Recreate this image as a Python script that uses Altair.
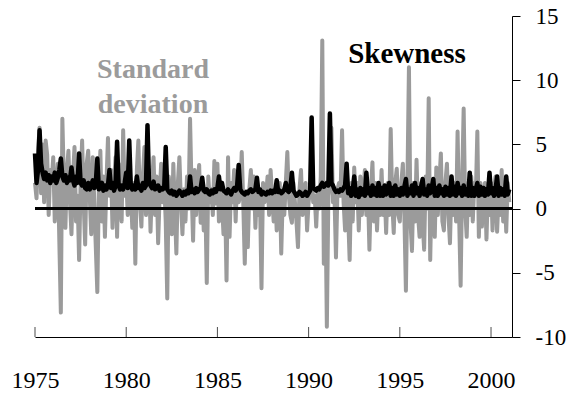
import altair as alt
import pandas as pd

# Monthly observations, January 1975 to January 2001
standard_deviation = [
    2.0, 0.8, 4.5, 6.3, 1.2, 5.0, 0.5, 5.3, 4.2, -0.5, 3.0, 2.0,      # 1975
    4.0, -1.0, 1.5, 3.5, -2.5, -8.1, 7.0, 2.0, -1.5, 3.0, 4.5, 0.5,   # 1976
    -2.0, 2.5, 4.8, -1.0, 1.0, -4.0, 2.0, 5.3, 0.5, -2.8, 3.5, 4.5,   # 1977
    1.0, -2.0, 4.0, 0.5, -3.0, -6.5, 1.5, 4.5, -1.0, 2.5, -2.2, 2.0,  # 1978
    5.5, 1.0, 3.0, -1.5, 2.0, 4.0, -2.2, 3.5, 0.5, -1.0, 6.1, 1.0,    # 1979
    2.5, -0.5, 4.0, 1.5, -1.5, 2.0, -4.3, 3.0, 5.3, 0.5, -1.4, 2.5,   # 1980
    4.8, -0.5, 1.5, 3.0, -1.8, 2.0, 4.0, -0.5, 2.5, -2.7, 1.0, 3.5,   # 1981
    0.5, 2.0, -1.0, -7.0, 2.5, 1.0, -2.0, 3.5, 0.0, -3.5, 2.0, 4.0,   # 1982
    0.5, -2.0, 1.5, -1.0, 2.5, 0.0, 7.0, 1.5, -2.5, 3.0, -0.5, 2.0,   # 1983
    3.4, -1.1, 2.0, -1.7, 1.0, -5.8, 2.5, 0.5, 1.5, -0.5, 3.7, 0.4,   # 1984
    3.5, -1.0, 2.0, 0.5, -2.0, 1.0, -5.6, 4.0, -2.2, 2.0, 0.5, 3.0,   # 1985
    -1.0, 2.5, 0.5, 1.0, 4.4, 0.5, -4.3, 1.0, -3.0, 1.5, 3.0, 0.0,    # 1986
    2.5, -1.5, 1.5, -0.5, 1.0, -6.2, 2.0, 0.5, 1.0, 2.5, -0.5, 3.0,   # 1987
    1.0, -1.0, 1.5, -1.7, 0.5, 2.0, -3.5, 1.0, -0.5, 2.0, 4.4, 1.0,   # 1988
    -0.5, -1.1, 2.0, 0.5, -1.0, -3.0, 1.5, 3.0, -0.5, 1.0, 2.0, -1.7, # 1989
    0.5, 1.5, 3.0, 0.5, 1.0, -1.4, 1.5, 0.0, 2.5, 13.1, -4.3, 1.5,    # 1990
    -9.2, 1.0, 2.0, 6.3, 0.5, 1.0, -3.8, 1.5, 2.0, 1.0, 6.1, 0.5,     # 1991
    -1.7, 2.5, -0.5, -4.0, 2.0, -1.0, 3.2, 0.5, 2.0, -1.7, 2.5, -0.5, # 1992
    1.0, 3.0, -0.5, 1.5, -3.2, 1.5, 3.6, -1.0, 2.0, -1.7, 1.5, -0.5,  # 1993
    3.0, -0.5, 1.5, -1.9, 2.0, -0.5, 6.2, 0.5, -1.9, 2.0, 3.1, -0.5,  # 1994
    -1.0, 2.0, 3.5, -0.5, -6.4, 2.0, 11.0, -1.0, -3.3, 2.0, -1.0, 3.8,# 1995
    -0.5, -2.2, 2.0, -1.0, -3.2, 2.5, 0.0, 8.6, -4.0, 2.0, 1.0, -2.2, # 1996
    3.2, -0.5, 2.0, 4.3, -1.0, -1.7, 2.0, 3.5, -0.5, -2.7, 2.0, -0.5, # 1997
    2.0, -1.0, 6.0, -0.5, -6.0, 2.0, 7.8, 0.0, -2.2, 2.0, -0.5, 2.5,  # 1998
    -1.0, 2.0, 1.0, 6.0, -2.2, 2.0, -1.4, 1.0, 2.0, -2.4, 1.5, -0.5,  # 1999
    2.0, -1.7, 1.5, 2.5, -1.8, 1.0, -0.5, 3.0, -1.0, 1.5, -1.8, 2.0,  # 2000
    0.5,                                                              # 2001
]

skewness = [
    4.3, 2.0, 3.0, 6.1, 3.5, 2.8, 2.3, 2.8, 2.2, 2.6, 2.0, 2.5,  # 1975
    2.2, 2.8, 2.0, 2.4, 3.0, 3.9, 2.5, 2.2, 2.6, 2.0, 2.4, 2.2,  # 1976
    3.2, 2.2, 1.8, 2.5, 2.0, 4.3, 2.0, 1.8, 2.2, 1.6, 1.5, 2.0,  # 1977
    1.5, 1.8, 2.2, 1.6, 2.0, 3.9, 1.5, 1.6, 2.0, 1.4, 1.8, 1.5,  # 1978
    1.8, 3.0, 1.6, 2.0, 1.4, 1.8, 5.2, 1.8, 1.5, 1.8, 1.5, 2.0,  # 1979
    2.8, 1.6, 5.3, 1.8, 1.5, 1.8, 1.5, 2.5, 1.6, 1.8, 1.4, 2.0,  # 1980
    1.6, 1.8, 6.5, 2.0, 1.8, 1.6, 2.1, 1.5, 1.6, 1.8, 1.4, 1.6,  # 1981
    1.5, 1.6, 4.8, 1.5, 1.3, 1.2, 1.4, 1.1, 1.3, 1.0, 1.2, 1.4,  # 1982
    1.2, 1.0, 1.3, 1.1, 1.4, 1.2, 2.5, 1.3, 1.5, 1.2, 1.6, 1.3,  # 1983
    1.5, 1.6, 2.4, 1.4, 1.3, 1.5, 1.2, 1.1, 1.4, 1.2, 1.5, 1.3,  # 1984
    1.6, 2.5, 1.5, 2.0, 1.4, 1.3, 1.2, 1.5, 1.3, 1.1, 1.4, 1.6,  # 1985
    1.4, 1.8, 3.4, 1.5, 1.3, 1.2, 1.1, 1.3, 1.2, 1.4, 1.5, 1.3,  # 1986
    1.4, 1.5, 2.4, 1.3, 1.5, 1.1, 1.3, 1.2, 1.1, 1.3, 1.2, 1.4,  # 1987
    1.2, 1.4, 1.3, 2.2, 1.3, 1.4, 1.2, 1.3, 1.5, 2.0, 1.4, 1.3,  # 1988
    1.6, 2.8, 1.4, 1.2, 1.0, 1.1, 1.3, 1.2, 1.0, 1.1, 1.3, 1.0,  # 1989
    1.2, 1.4, 7.1, 1.6, 1.5, 1.4, 1.6, 1.5, 1.8, 2.0, 1.7, 1.8,  # 1990
    2.0, 1.8, 7.4, 2.0, 1.8, 1.5, 1.3, 1.4, 1.3, 1.5, 1.4, 1.6,  # 1991
    1.8, 3.5, 1.2, 1.6, 1.0, 1.4, 2.5, 1.0, 1.5, 0.9, 1.6, 1.1,  # 1992
    1.5, 1.0, 2.8, 1.2, 1.6, 1.0, 1.8, 1.1, 1.6, 1.0, 2.0, 1.0,  # 1993
    1.6, 1.0, 1.8, 1.1, 1.5, 2.0, 1.0, 1.6, 1.0, 1.8, 1.1, 1.5,  # 1994
    1.0, 1.6, 1.1, 1.7, 2.3, 1.0, 1.5, 1.2, 1.8, 1.0, 2.0, 1.2,  # 1995
    1.6, 1.0, 1.7, 2.3, 1.1, 1.5, 1.0, 1.8, 1.2, 1.6, 2.3, 1.0,  # 1996
    1.6, 1.0, 1.8, 1.2, 1.5, 1.0, 1.7, 1.1, 1.6, 1.0, 2.5, 1.1,  # 1997
    1.7, 1.0, 2.0, 1.2, 1.6, 1.0, 1.8, 1.1, 1.5, 1.0, 2.8, 1.0,  # 1998
    1.6, 1.0, 1.5, 2.0, 1.0, 1.7, 1.1, 1.6, 1.0, 1.5, 1.1, 2.8,  # 1999
    1.2, 1.6, 1.0, 1.5, 2.5, 1.0, 1.6, 1.1, 1.5, 1.0, 2.5, 1.1,  # 2000
    1.5,                                                         # 2001
]

start_year = 1975
x_tick_years = [1975, 1980, 1985, 1990, 1995, 2000]
y_tick_values = [-10, -5, 0, 5, 10, 15]
x_domain = [1975, 2001.15]
y_domain = [-10, 15]

GRAY = "#9b9b9b"
FONT = "Liberation Serif"

df = pd.DataFrame({
    "t": [start_year + i / 12 for i in range(len(standard_deviation))],
    "sd": standard_deviation,
    "sk": skewness,
})
ticks_df = pd.DataFrame({"year": x_tick_years})

x_scale = alt.Scale(domain=x_domain, nice=False, zero=False)
y_scale = alt.Scale(domain=y_domain, nice=False, zero=False)

x_axis = alt.Axis(
    values=x_tick_years, format="d", ticks=False, grid=False, title=None,
    labelFont=FONT, labelFontSize=24, labelColor="black",
    labelPadding=43, labelBaseline="middle",
    domainColor="black", domainWidth=1, labelFlush=False,
)
y_axis = alt.Axis(
    orient="right", values=y_tick_values, grid=False, title=None,
    labelExpr="'' + datum.value",
    labelFont=FONT, labelFontSize=23, labelColor="black",
    tickSize=8, tickColor="black", tickWidth=1,
    labelPadding=15, domainColor="black", domainWidth=1,
)

def X(field):
    return alt.X(field, scale=x_scale, axis=x_axis)

def Y(field):
    return alt.Y(field, scale=y_scale, axis=y_axis)

gray = alt.Chart(df).mark_line(
    color=GRAY, strokeWidth=4, strokeJoin="round"
).encode(x=X("t:Q"), y=Y("sd:Q"))

zero = alt.Chart(df).mark_rule(color="black", strokeWidth=1.5).encode(
    y=alt.YDatum(0, scale=y_scale, axis=y_axis)
)

black = alt.Chart(df).mark_line(
    color="black", strokeWidth=4.5, strokeJoin="round"
).encode(x=X("t:Q"), y=Y("sk:Q"))

xticks = alt.Chart(ticks_df).mark_tick(
    orient="vertical", size=10, thickness=1, yOffset=-5, color="black"
).encode(x=X("year:Q"), y=alt.YDatum(-10, scale=y_scale, axis=y_axis))

sd_label = alt.Chart(pd.DataFrame({"label": ["Standard\ndeviation"]})).mark_text(
    font=FONT, fontSize=28, fontWeight="bold", color=GRAY,
    align="center", baseline="alphabetic", lineBreak="\n", lineHeight=35,
).encode(text="label:N", x=alt.value(118), y=alt.value(62))

sk_label = alt.Chart(pd.DataFrame({"label": ["Skewness"]})).mark_text(
    font=FONT, fontSize=29, fontWeight="bold", color="black",
    align="center", baseline="alphabetic",
).encode(text="label:N", x=alt.value(372), y=alt.value(47))

chart = alt.layer(gray, zero, black, xticks, sd_label, sk_label).properties(
    width=477, height=321,
    autosize=alt.AutoSizeParams(type="none"),
    padding={"left": 27, "top": 8, "right": 56, "bottom": 57},
).configure_view(stroke=None)

chart.save("out.html", embed_options={"renderer": "svg", "actions": False})
